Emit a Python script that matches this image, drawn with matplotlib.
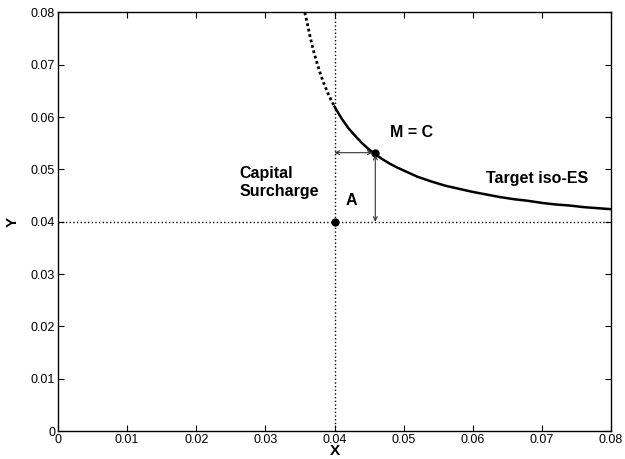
#!/usr/bin/env python3
import matplotlib
matplotlib.use("Agg")
import matplotlib.pyplot as plt

plt.rcParams['font.family'] = ['Liberation Sans', 'DejaVu Sans']

# iso-ES curve
curve_x_dotted = [0.0357, 0.036, 0.0365, 0.037, 0.0375, 0.038, 0.0385,
                  0.039, 0.0395, 0.040]
curve_y_dotted = [0.0800, 0.0783, 0.0752, 0.0725, 0.0702, 0.0681, 0.0663,
                  0.0647, 0.0633, 0.0620]
curve_x = [0.040, 0.041, 0.042, 0.043, 0.044, 0.045, 0.046, 0.047, 0.048,
           0.049, 0.050, 0.052, 0.054, 0.056, 0.058, 0.060, 0.062, 0.064,
           0.066, 0.068, 0.070, 0.072, 0.074, 0.076, 0.078, 0.080]
curve_y = [0.0620, 0.0598, 0.0579, 0.0564, 0.0550, 0.0538, 0.0528, 0.0519,
           0.0511, 0.0504, 0.0498, 0.0486, 0.0477, 0.0469, 0.0463, 0.0457,
           0.0452, 0.0447, 0.0443, 0.0440, 0.0436, 0.0433, 0.0431, 0.0428,
           0.0426, 0.0424]

# points
point_a = (0.040, 0.040)
point_m = (0.0459, 0.0532)

ticks = [0, 0.01, 0.02, 0.03, 0.04, 0.05, 0.06, 0.07, 0.08]
tick_labels = ['0', '0.01', '0.02', '0.03', '0.04', '0.05', '0.06', '0.07', '0.08']

fig = plt.figure(figsize=(6.25, 4.59), dpi=100)
ax = fig.add_axes([0.0928, 0.061, 0.8848, 0.9118])

# reference lines through A
ax.axvline(point_a[0], color='black', linestyle=':', linewidth=1.0)
ax.axhline(point_a[1], color='black', linestyle=':', linewidth=1.0)

# curve
ax.plot(curve_x_dotted, curve_y_dotted, color='black', linestyle=(0, (1, 1)),
        linewidth=2.0)
ax.plot(curve_x, curve_y, color='black', linewidth=1.8)

# arrows
arrow_style = dict(arrowstyle='<->', color='#333333', linewidth=0.8,
                   shrinkA=0, shrinkB=0, mutation_scale=7)
ax.annotate('', xy=(point_a[0], point_m[1]), xytext=(point_m[0] - 0.0004, point_m[1]),
            arrowprops=arrow_style)
ax.annotate('', xy=(point_m[0], point_a[1]), xytext=(point_m[0], point_m[1] - 0.0004),
            arrowprops=arrow_style)

ax.plot(*point_a, 'o', color='black', markersize=5)
ax.plot(*point_m, 'o', color='black', markersize=5)

# labels
ax.text(0.0263, 0.0475, 'Capital\nSurcharge', fontsize=11.5, fontweight='bold',
        ha='left', va='center', linespacing=1.25)
ax.text(0.0424, 0.0440, 'A', fontsize=11.5, fontweight='bold', ha='center', va='center')
ax.text(0.0480, 0.0570, 'M = C', fontsize=11.5, fontweight='bold', ha='left', va='center')
ax.text(0.0619, 0.0482, 'Target iso-ES', fontsize=11.5, fontweight='bold',
        ha='left', va='center')

ax.set_xlim(0, 0.08)
ax.set_ylim(0, 0.08)
ax.set_xticks(ticks)
ax.set_xticklabels(tick_labels)
ax.set_yticks(ticks)
ax.set_yticklabels(tick_labels)
ax.tick_params(direction='in', top=True, right=True, length=4, width=0.8,
               labelsize=9, pad=2)
for s in ax.spines.values():
    s.set_linewidth(1.0)

ax.set_xlabel('X', fontsize=11, fontweight='bold', labelpad=-1)
ax.set_ylabel('Y', fontsize=11, fontweight='bold', labelpad=8)

fig.savefig('out.png', dpi=100)
